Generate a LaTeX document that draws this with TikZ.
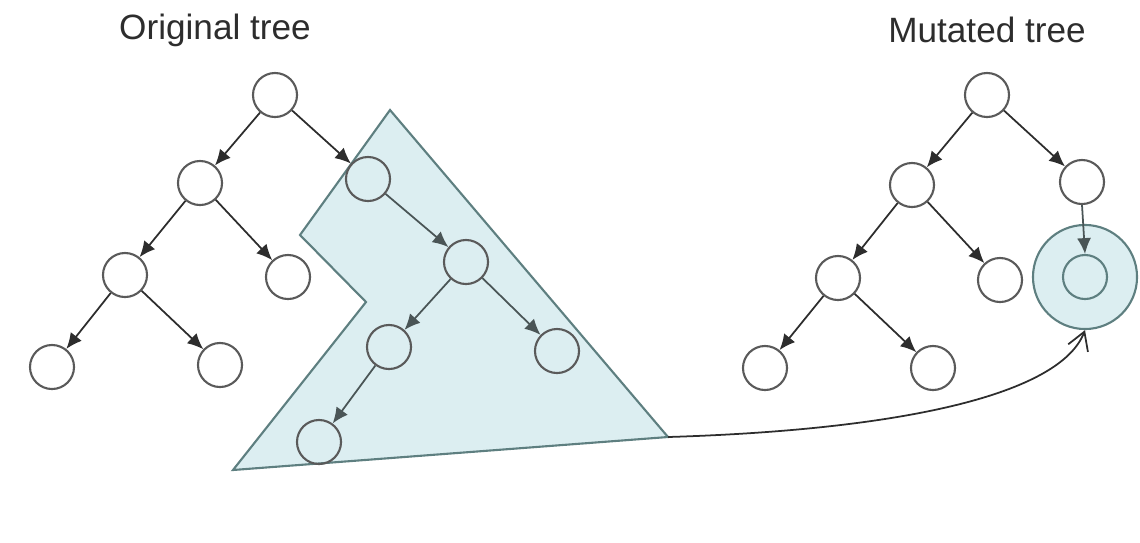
\documentclass[tikz,border=0pt]{standalone}
\usepackage{fontspec}
\setsansfont{Liberation Sans}
\usetikzlibrary{arrows.meta, positioning, calc}
\definecolor{nodeGray}{HTML}{5A5A5A}
\definecolor{cutFill}{HTML}{DCEEF1}
\definecolor{cutLine}{HTML}{5E7F80}
\definecolor{edgeDark}{HTML}{2D2D2D}
\definecolor{edgeMuted}{HTML}{4A5556}

\begin{document}
\begin{tikzpicture}[x=0.01cm, y=-0.01cm, font=\sffamily,
    tnode/.style={circle, draw=nodeGray, line width=0.6pt, minimum size=0.44cm, inner sep=0pt},
    edge/.style={-{Latex[length=4.5pt, width=4pt]}, edgeDark, line width=0.5pt},
    cutedge/.style={edge, edgeMuted}]
  \useasboundingbox (0,0) rectangle (1140,542);
  % subarbol cortado
  \filldraw[fill=cutFill, draw=cutLine, line width=0.6pt]
    (390,110) -- (300,235) -- (366,302) -- (233,470) -- (668,437) coordinate (cutR) -- cycle;
  \node[text=edgeDark] (tOrig) at (215,30) {Original tree};
  \node[text=edgeDark] (tMut) at (987,30) {Mutated tree};
  % arbol original
  \node[tnode] (r) at (275,95) {};
  \node[tnode] (a) at (200,183) {};
  \node[tnode] (b) at (368,179) {};
  \node[tnode] (c) at (125,275) {};
  \node[tnode] (d) at (288,277) {};
  \node[tnode] (e) at (52,367) {};
  \node[tnode] (f) at (220,365) {};
  \node[tnode] (g) at (466,262) {};
  \node[tnode] (h) at (389,347) {};
  \node[tnode] (i) at (557,351) {};
  \node[tnode] (j) at (319,442) {};
  \draw[edge] (r) -- (a);
  \draw[edge] (r) -- (b);
  \draw[edge] (a) -- (c);
  \draw[edge] (a) -- (d);
  \draw[edge] (c) -- (e);
  \draw[edge] (c) -- (f);
  \draw[cutedge] (b) -- (g);
  \draw[cutedge] (g) -- (h);
  \draw[cutedge] (g) -- (i);
  \draw[cutedge] (h) -- (j);
  % arbol mutado
  \node[circle, fill=cutFill, draw=cutLine, line width=0.6pt, minimum size=1.04cm, inner sep=0pt] (Gout) at (1085,277) {};
  \node[tnode] (R) at (987,95) {};
  \node[tnode] (A) at (912,185) {};
  \node[tnode] (B) at (1082,182) {};
  \node[tnode] (C) at (838,278) {};
  \node[tnode] (D) at (1000,280) {};
  \node[tnode] (E) at (765,368) {};
  \node[tnode] (F) at (933,368) {};
  \node[tnode, draw=cutLine] (G) at (1085,277) {};
  \draw[edge] (R) -- (A);
  \draw[edge] (R) -- (B);
  \draw[edge] (A) -- (C);
  \draw[edge] (A) -- (D);
  \draw[edge] (C) -- (E);
  \draw[edge] (C) -- (F);
  \draw[cutedge] (B.south) -- (G.north);
  % trasplante
  \draw[-{Straight Barb[length=5pt, width=6pt]}, edgeDark, line width=0.5pt]
    (cutR) .. controls (900,430) and (1060,395) .. (Gout.south);
\end{tikzpicture}
\end{document}
